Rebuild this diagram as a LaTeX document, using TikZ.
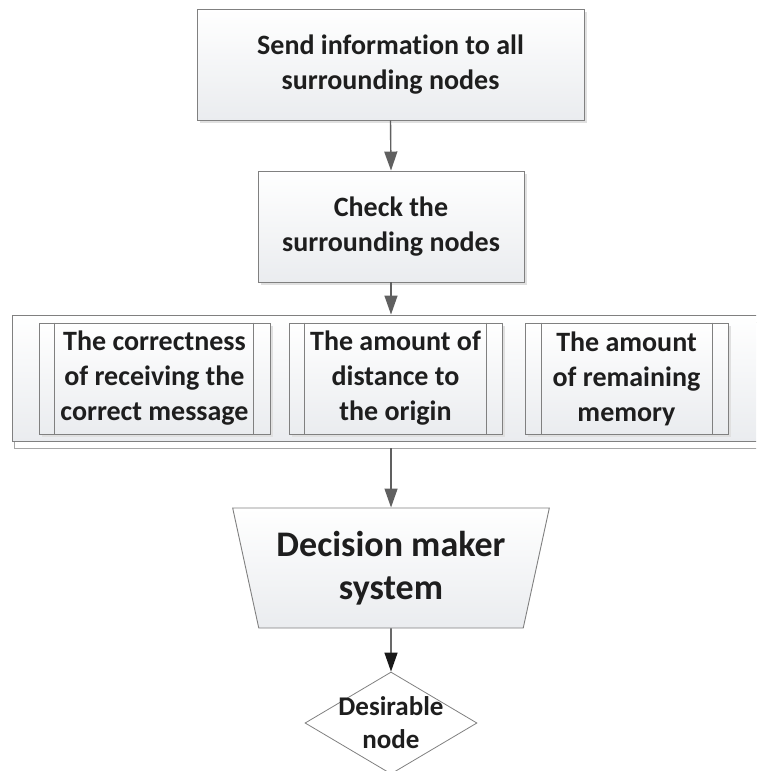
\documentclass[tikz,border=0pt]{standalone}
\usepackage{fontspec}
\setmainfont{Carlito}[RawFeature={-liga}]
\usetikzlibrary{shapes.geometric,arrows.meta,shadows}
\definecolor{boxbot}{RGB}{234,236,239}
\definecolor{edge}{RGB}{128,128,128}
\definecolor{arrowc}{RGB}{96,96,96}
\definecolor{txt}{RGB}{30,30,30}
\begin{document}
\begin{tikzpicture}[x=1pt,y=-1pt,
  boxstyle/.style={rectangle, draw=edge, line width=0.9pt, top color=white, bottom color=boxbot,
    text=txt, align=center, font=\fontsize{28}{35}\selectfont\bfseries, inner sep=0pt},
  shad/.style={drop shadow={shadow xshift=2.5pt, shadow yshift=-2.5pt, fill=black!12, opacity=1}},
  flow/.style={draw=arrowc, line width=1.4pt, -{Triangle[width=13pt,length=19pt]}},
  subline/.style={draw=edge, line width=0.9pt},
]
\useasboundingbox (0,0) rectangle (756,771);
\clip (0,0) rectangle (756,771);

\node[boxstyle, shad, minimum width=387pt, minimum height=111pt] (send) at (390.5,64.5)
  {Send information to all\\surrounding nodes};
\node[boxstyle, shad, minimum width=266pt, minimum height=111pt] (check) at (391,226.5)
  {Check the\\surrounding nodes};

\node[rectangle, draw=edge!70, line width=0.9pt, fill=white, minimum width=756pt, minimum height=126pt, inner sep=0pt] (contsh) at (392,385) {};
\node[rectangle, draw=edge, line width=0.9pt, top color=white, bottom color=boxbot, minimum width=748pt, minimum height=126pt, inner sep=0pt] (cont) at (386,378) {};

\node[boxstyle, shad, minimum width=231pt, minimum height=111pt] (c1) at (154.5,378.5)
  {The correctness\\of receiving the\\correct message};
\draw[subline] ([xshift=16pt]c1.north west) -- ([xshift=16pt]c1.south west);
\draw[subline] ([xshift=-17pt]c1.north east) -- ([xshift=-17pt]c1.south east);

\node[boxstyle, shad, minimum width=213pt, minimum height=111pt] (c2) at (395.5,378.5)
  {The amount of\\distance to\\the origin};
\draw[subline] ([xshift=16pt]c2.north west) -- ([xshift=16pt]c2.south west);
\draw[subline] ([xshift=-16pt]c2.north east) -- ([xshift=-16pt]c2.south east);

\node[boxstyle, shad, minimum width=203pt, minimum height=111pt] (c3) at (626.5,378.5)
  {The amount\\of remaining\\memory};
\draw[subline] ([xshift=17pt]c3.north west) -- ([xshift=17pt]c3.south west);
\draw[subline] ([xshift=-16pt]c3.north east) -- ([xshift=-16pt]c3.south east);

\node[trapezium, shape border rotate=180, trapezium stretches=true,
  trapezium left angle=73, trapezium right angle=73,
  minimum width=318pt, minimum height=120pt, draw=edge, line width=0.9pt,
  top color=white, bottom color=boxbot, text=txt, align=center,
  font=\fontsize{36}{43}\selectfont\bfseries, inner sep=0pt] (dec) at (391,568)
  {Decision maker\\system};

\node[diamond, draw=edge, line width=0.8pt, fill=white, minimum width=172pt, minimum height=102pt, inner sep=0pt] (des) at (391,723) {};
\node[text=txt, align=center, font=\fontsize{27}{33}\selectfont\bfseries, inner sep=0pt] (destxt) at (des.center) {Desirable\\node};

\draw[flow] (send.south) -- (check.north);
\draw[flow] (check.south) -- (check.south |- cont.north);
\draw[flow] (dec.north |- contsh.south) -- (dec.north);
\draw[flow, draw=black!90] (dec.south) -- (des.north);
\end{tikzpicture}
\end{document}
